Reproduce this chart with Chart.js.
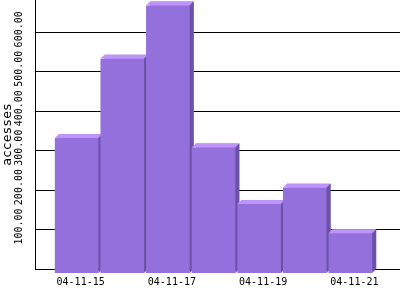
<!DOCTYPE html>
<html>
<head>
<meta charset="utf-8">
<script src="https://cdn.jsdelivr.net/npm/chart.js@4"></script>
<style>
  html, body { margin: 0; padding: 0; background: #fff; }
  canvas { display: block; }
</style>
</head>
<body>
<canvas id="chart" width="400" height="300"></canvas>
<script>
const days = ["04-11-15", "04-11-16", "04-11-17", "04-11-18", "04-11-19", "04-11-20", "04-11-21"];
const accesses = [342, 543, 678, 318, 175, 216, 101];
const yTicks = [100, 200, 300, 400, 500, 600];
const xTicks = [0, 2, 4, 6]; // every other day gets a label
const yMax = 682;

const front = "#9370db";
const topFace = "#bf93fb";
const sideFace = "#6b52a8";
const depth = 4;
const tickFont = { family: "DejaVu Sans Mono", size: 10 };

// draws each bar as a little box, offset from the bar the library placed
const bars3d = {
  id: "bars3d",
  afterDatasetsDraw(chart) {
    const ctx = chart.ctx;
    chart.getDatasetMeta(0).data.forEach((bar) => {
      const { x, y, base, width } = bar.getProps(["x", "y", "base", "width"], true);
      const l = x - width / 2;
      const r = x + width / 2;
      ctx.save();
      // front
      ctx.fillStyle = front;
      ctx.fillRect(l - depth, y + depth, width, base - y);
      // top
      ctx.fillStyle = topFace;
      ctx.beginPath();
      ctx.moveTo(l - depth, y + depth);
      ctx.lineTo(l, y);
      ctx.lineTo(r, y);
      ctx.lineTo(r - depth, y + depth);
      ctx.closePath();
      ctx.fill();
      // side
      ctx.fillStyle = sideFace;
      ctx.beginPath();
      ctx.moveTo(r - depth, y + depth);
      ctx.lineTo(r, y);
      ctx.lineTo(r, base);
      ctx.lineTo(r - depth, base + depth);
      ctx.closePath();
      ctx.fill();
      ctx.restore();
    });
  }
};

new Chart(document.getElementById("chart"), {
  type: "bar",
  data: {
    datasets: [{
      data: accesses.map((v, i) => ({ x: i, y: v })),
      backgroundColor: front,
      categoryPercentage: 1,
      barPercentage: 0.956,
    }],
  },
  options: {
    responsive: false,
    animation: false,
    layout: { padding: 0 },
    plugins: {
      legend: { display: false },
      tooltip: { enabled: false },
    },
    scales: {
      x: {
        type: "linear",
        offset: false,
        min: -1,
        max: days.length,
        afterBuildTicks: (s) => { s.ticks = xTicks.map((v) => ({ value: v })); },
        grid: { display: false, drawTicks: false, offset: false },
        border: { color: "#000" },
        ticks: {
          font: tickFont,
          color: "#000",
          padding: 7,
          maxRotation: 0,
          callback: (v) => days[v],
        },
        afterFit: (s) => {
          s.height = 31;
          s.paddingLeft = 0;
          s.paddingRight = 0;
        },
      },
      y: {
        min: 0,
        max: yMax,
        afterBuildTicks: (s) => { s.ticks = yTicks.map((v) => ({ value: v })); },
        grid: { color: "#000", drawTicks: false },
        border: { color: "#000" },
        ticks: {
          font: tickFont,
          color: "#000",
          minRotation: 90,
          maxRotation: 90,
          crossAlign: "center",
          padding: -5,
          callback: (v) => " " + v.toFixed(2),
        },
        title: {
          display: true,
          text: "accesses",
          color: "#000",
          font: { family: "DejaVu Sans Mono", size: 13 },
          padding: 0,
        },
        afterFit: (s) => {
          s.width = 35;
          s.paddingTop = 0;
          s.paddingBottom = 0;
        },
      },
    },
  },
  plugins: [bars3d],
});
</script>
</body>
</html>
